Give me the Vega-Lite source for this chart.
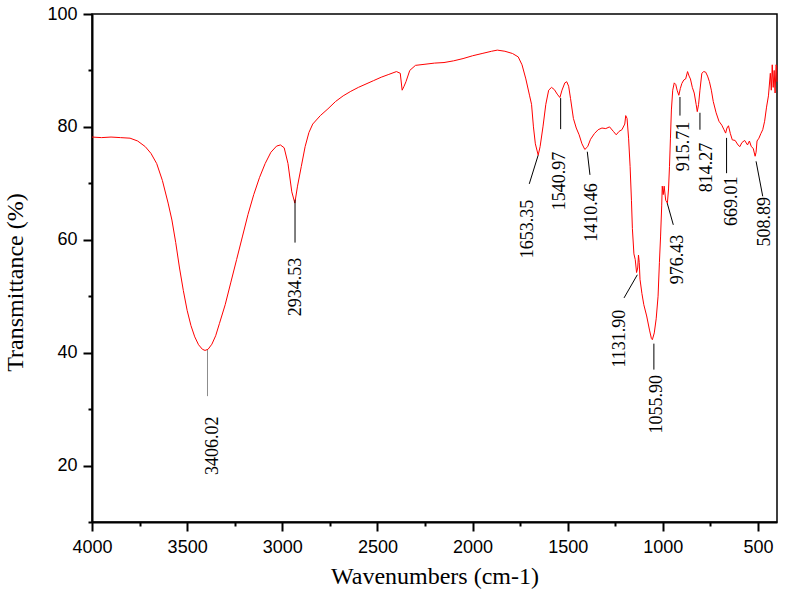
{
  "$schema": "https://vega.github.io/schema/vega-lite/v6.json",
  "width": 685,
  "height": 508,
  "autosize": "none",
  "padding": {"left": 92, "top": 14, "right": 9, "bottom": 83},
  "background": "white",
  "config": {
    "view": {"stroke": "black", "strokeWidth": 1.5},
    "axis": {
      "grid": false,
      "domainColor": "black",
      "domainWidth": 2,
      "tickColor": "black",
      "tickWidth": 2,
      "labelFont": "Liberation Sans",
      "labelFontSize": 18,
      "labelColor": "black",
      "titleFont": "Liberation Serif",
      "titleFontSize": 24,
      "titleFontWeight": "normal",
      "titleColor": "black"
    }
  },
  "datasets": {
    "spectrum": [
      {"wavenumber": 4000, "transmittance": 78.2}, {"wavenumber": 3950, "transmittance": 78.1}, {"wavenumber": 3900, "transmittance": 78.2},
      {"wavenumber": 3850, "transmittance": 78.1}, {"wavenumber": 3800, "transmittance": 78.0}, {"wavenumber": 3760, "transmittance": 77.5},
      {"wavenumber": 3720, "transmittance": 76.5}, {"wavenumber": 3690, "transmittance": 75.3}, {"wavenumber": 3660, "transmittance": 73.5},
      {"wavenumber": 3630, "transmittance": 70.5}, {"wavenumber": 3600, "transmittance": 66.5}, {"wavenumber": 3580, "transmittance": 63.5},
      {"wavenumber": 3560, "transmittance": 59.5}, {"wavenumber": 3540, "transmittance": 55.0}, {"wavenumber": 3520, "transmittance": 51.0},
      {"wavenumber": 3500, "transmittance": 47.5}, {"wavenumber": 3480, "transmittance": 44.8}, {"wavenumber": 3460, "transmittance": 42.8},
      {"wavenumber": 3440, "transmittance": 41.4}, {"wavenumber": 3420, "transmittance": 40.6}, {"wavenumber": 3406, "transmittance": 40.4},
      {"wavenumber": 3390, "transmittance": 40.6}, {"wavenumber": 3370, "transmittance": 41.5}, {"wavenumber": 3350, "transmittance": 43.0},
      {"wavenumber": 3330, "transmittance": 45.2}, {"wavenumber": 3300, "transmittance": 48.5}, {"wavenumber": 3270, "transmittance": 52.5},
      {"wavenumber": 3240, "transmittance": 56.5}, {"wavenumber": 3210, "transmittance": 60.5}, {"wavenumber": 3180, "transmittance": 64.5},
      {"wavenumber": 3150, "transmittance": 68.0}, {"wavenumber": 3120, "transmittance": 71.0}, {"wavenumber": 3090, "transmittance": 73.5},
      {"wavenumber": 3060, "transmittance": 75.5}, {"wavenumber": 3030, "transmittance": 76.6}, {"wavenumber": 3010, "transmittance": 76.8},
      {"wavenumber": 2990, "transmittance": 76.3}, {"wavenumber": 2970, "transmittance": 73.5}, {"wavenumber": 2950, "transmittance": 68.5},
      {"wavenumber": 2934, "transmittance": 66.5}, {"wavenumber": 2920, "transmittance": 69.5}, {"wavenumber": 2900, "transmittance": 73.0},
      {"wavenumber": 2880, "transmittance": 76.5}, {"wavenumber": 2860, "transmittance": 79.0}, {"wavenumber": 2840, "transmittance": 80.5},
      {"wavenumber": 2800, "transmittance": 82.0}, {"wavenumber": 2760, "transmittance": 83.2}, {"wavenumber": 2720, "transmittance": 84.5},
      {"wavenumber": 2680, "transmittance": 85.5}, {"wavenumber": 2640, "transmittance": 86.3}, {"wavenumber": 2600, "transmittance": 87.0},
      {"wavenumber": 2560, "transmittance": 87.6}, {"wavenumber": 2520, "transmittance": 88.2}, {"wavenumber": 2480, "transmittance": 88.8},
      {"wavenumber": 2440, "transmittance": 89.3}, {"wavenumber": 2400, "transmittance": 89.8}, {"wavenumber": 2380, "transmittance": 89.5},
      {"wavenumber": 2370, "transmittance": 86.5}, {"wavenumber": 2360, "transmittance": 87.2}, {"wavenumber": 2350, "transmittance": 88.0},
      {"wavenumber": 2330, "transmittance": 90.0}, {"wavenumber": 2300, "transmittance": 90.9}, {"wavenumber": 2250, "transmittance": 91.1},
      {"wavenumber": 2200, "transmittance": 91.3}, {"wavenumber": 2150, "transmittance": 91.4}, {"wavenumber": 2100, "transmittance": 91.7},
      {"wavenumber": 2050, "transmittance": 92.1}, {"wavenumber": 2000, "transmittance": 92.6}, {"wavenumber": 1950, "transmittance": 93.0},
      {"wavenumber": 1900, "transmittance": 93.4}, {"wavenumber": 1870, "transmittance": 93.6}, {"wavenumber": 1830, "transmittance": 93.4},
      {"wavenumber": 1790, "transmittance": 93.0}, {"wavenumber": 1760, "transmittance": 92.4}, {"wavenumber": 1740, "transmittance": 91.0},
      {"wavenumber": 1720, "transmittance": 88.5}, {"wavenumber": 1700, "transmittance": 85.5}, {"wavenumber": 1690, "transmittance": 84.0},
      {"wavenumber": 1680, "transmittance": 80.0}, {"wavenumber": 1670, "transmittance": 77.0}, {"wavenumber": 1655, "transmittance": 75.0},
      {"wavenumber": 1645, "transmittance": 76.5}, {"wavenumber": 1630, "transmittance": 80.0}, {"wavenumber": 1615, "transmittance": 84.0},
      {"wavenumber": 1600, "transmittance": 86.5}, {"wavenumber": 1585, "transmittance": 87.0}, {"wavenumber": 1570, "transmittance": 86.6},
      {"wavenumber": 1555, "transmittance": 85.8}, {"wavenumber": 1541, "transmittance": 85.2}, {"wavenumber": 1530, "transmittance": 86.5},
      {"wavenumber": 1515, "transmittance": 87.8}, {"wavenumber": 1505, "transmittance": 88.0}, {"wavenumber": 1495, "transmittance": 87.2},
      {"wavenumber": 1485, "transmittance": 85.0}, {"wavenumber": 1470, "transmittance": 81.5}, {"wavenumber": 1455, "transmittance": 79.8},
      {"wavenumber": 1440, "transmittance": 78.6}, {"wavenumber": 1425, "transmittance": 77.0}, {"wavenumber": 1410, "transmittance": 76.0},
      {"wavenumber": 1395, "transmittance": 76.5}, {"wavenumber": 1380, "transmittance": 77.8}, {"wavenumber": 1360, "transmittance": 78.8},
      {"wavenumber": 1340, "transmittance": 79.5}, {"wavenumber": 1320, "transmittance": 79.8}, {"wavenumber": 1300, "transmittance": 79.7},
      {"wavenumber": 1280, "transmittance": 80.0}, {"wavenumber": 1260, "transmittance": 79.2}, {"wavenumber": 1245, "transmittance": 78.6},
      {"wavenumber": 1230, "transmittance": 79.2}, {"wavenumber": 1215, "transmittance": 79.5}, {"wavenumber": 1200, "transmittance": 80.5},
      {"wavenumber": 1195, "transmittance": 82.0}, {"wavenumber": 1188, "transmittance": 81.5}, {"wavenumber": 1180, "transmittance": 78.0},
      {"wavenumber": 1172, "transmittance": 73.0}, {"wavenumber": 1165, "transmittance": 67.0}, {"wavenumber": 1160, "transmittance": 62.0},
      {"wavenumber": 1152, "transmittance": 57.5}, {"wavenumber": 1145, "transmittance": 56.5}, {"wavenumber": 1138, "transmittance": 54.2},
      {"wavenumber": 1132, "transmittance": 55.0}, {"wavenumber": 1128, "transmittance": 57.3}, {"wavenumber": 1124, "transmittance": 56.0},
      {"wavenumber": 1120, "transmittance": 53.0}, {"wavenumber": 1110, "transmittance": 50.5}, {"wavenumber": 1100, "transmittance": 48.5},
      {"wavenumber": 1085, "transmittance": 46.5}, {"wavenumber": 1070, "transmittance": 44.0}, {"wavenumber": 1060, "transmittance": 42.5},
      {"wavenumber": 1055, "transmittance": 42.3}, {"wavenumber": 1045, "transmittance": 43.5}, {"wavenumber": 1035, "transmittance": 46.0},
      {"wavenumber": 1025, "transmittance": 50.0}, {"wavenumber": 1018, "transmittance": 56.0}, {"wavenumber": 1012, "transmittance": 60.5},
      {"wavenumber": 1006, "transmittance": 66.0}, {"wavenumber": 1003, "transmittance": 69.5}, {"wavenumber": 998, "transmittance": 68.0},
      {"wavenumber": 993, "transmittance": 69.5}, {"wavenumber": 985, "transmittance": 67.0}, {"wavenumber": 976, "transmittance": 66.5},
      {"wavenumber": 970, "transmittance": 69.0}, {"wavenumber": 965, "transmittance": 73.0}, {"wavenumber": 960, "transmittance": 78.0},
      {"wavenumber": 955, "transmittance": 83.0}, {"wavenumber": 948, "transmittance": 86.5}, {"wavenumber": 940, "transmittance": 87.8},
      {"wavenumber": 932, "transmittance": 87.5}, {"wavenumber": 925, "transmittance": 86.5}, {"wavenumber": 916, "transmittance": 85.6},
      {"wavenumber": 908, "transmittance": 86.8}, {"wavenumber": 900, "transmittance": 87.7}, {"wavenumber": 890, "transmittance": 88.3},
      {"wavenumber": 880, "transmittance": 88.5}, {"wavenumber": 870, "transmittance": 89.8}, {"wavenumber": 862, "transmittance": 89.0},
      {"wavenumber": 855, "transmittance": 88.5}, {"wavenumber": 845, "transmittance": 87.0}, {"wavenumber": 835, "transmittance": 86.0},
      {"wavenumber": 825, "transmittance": 84.0}, {"wavenumber": 819, "transmittance": 82.7}, {"wavenumber": 812, "transmittance": 84.0},
      {"wavenumber": 805, "transmittance": 86.5}, {"wavenumber": 795, "transmittance": 89.5}, {"wavenumber": 785, "transmittance": 89.8},
      {"wavenumber": 775, "transmittance": 89.7}, {"wavenumber": 765, "transmittance": 89.0}, {"wavenumber": 755, "transmittance": 88.0},
      {"wavenumber": 745, "transmittance": 86.5}, {"wavenumber": 735, "transmittance": 84.5}, {"wavenumber": 720, "transmittance": 82.5},
      {"wavenumber": 705, "transmittance": 81.0}, {"wavenumber": 690, "transmittance": 80.3}, {"wavenumber": 680, "transmittance": 79.6},
      {"wavenumber": 670, "transmittance": 78.9}, {"wavenumber": 663, "transmittance": 79.8}, {"wavenumber": 655, "transmittance": 80.2},
      {"wavenumber": 645, "transmittance": 78.8}, {"wavenumber": 635, "transmittance": 77.7}, {"wavenumber": 620, "transmittance": 77.6},
      {"wavenumber": 605, "transmittance": 76.8}, {"wavenumber": 595, "transmittance": 76.5}, {"wavenumber": 585, "transmittance": 77.2},
      {"wavenumber": 570, "transmittance": 77.6}, {"wavenumber": 555, "transmittance": 76.8}, {"wavenumber": 545, "transmittance": 77.5},
      {"wavenumber": 535, "transmittance": 76.5}, {"wavenumber": 525, "transmittance": 76.2}, {"wavenumber": 515, "transmittance": 74.8},
      {"wavenumber": 510, "transmittance": 75.5}, {"wavenumber": 505, "transmittance": 77.5}, {"wavenumber": 495, "transmittance": 78.0},
      {"wavenumber": 485, "transmittance": 78.8}, {"wavenumber": 475, "transmittance": 79.5}, {"wavenumber": 465, "transmittance": 81.0},
      {"wavenumber": 455, "transmittance": 83.5}, {"wavenumber": 445, "transmittance": 85.5}, {"wavenumber": 435, "transmittance": 89.5},
      {"wavenumber": 430, "transmittance": 86.5}, {"wavenumber": 425, "transmittance": 91.0}, {"wavenumber": 420, "transmittance": 87.0},
      {"wavenumber": 415, "transmittance": 90.0}, {"wavenumber": 410, "transmittance": 86.0}, {"wavenumber": 405, "transmittance": 91.0},
      {"wavenumber": 402, "transmittance": 90.7}, {"wavenumber": 400, "transmittance": 88.0}
    ],
    "peaks": [
      {"label": "3406.02", "x1": 3393, "y1": 40.5, "x2": 3393, "y2": 32.3, "lx": 3364, "ly": 28.7},
      {"label": "2934.53", "x1": 2933, "y1": 67.1, "x2": 2933, "y2": 59.5, "lx": 2929, "ly": 56.8},
      {"label": "1653.35", "x1": 1655, "y1": 75.0, "x2": 1702, "y2": 69.9, "lx": 1709, "ly": 67.1},
      {"label": "1540.97", "x1": 1537, "y1": 85.1, "x2": 1537, "y2": 79.6, "lx": 1541, "ly": 75.6},
      {"label": "1410.46", "x1": 1397, "y1": 75.6, "x2": 1383, "y2": 71.5, "lx": 1374, "ly": 70.0},
      {"label": "1131.90", "x1": 1134, "y1": 53.8, "x2": 1204, "y2": 49.7, "lx": 1225, "ly": 47.6},
      {"label": "1055.90", "x1": 1047, "y1": 41.6, "x2": 1047, "y2": 37.0, "lx": 1033, "ly": 36.05},
      {"label": "976.43", "x1": 977, "y1": 66.5, "x2": 945, "y2": 62.65, "lx": 919, "ly": 60.9},
      {"label": "915.71", "x1": 910, "y1": 85.3, "x2": 910, "y2": 82.0, "lx": 887, "ly": 80.9},
      {"label": "814.27", "x1": 805, "y1": 82.5, "x2": 805, "y2": 79.5, "lx": 768, "ly": 77.2},
      {"label": "669.01", "x1": 665, "y1": 78.05, "x2": 665, "y2": 71.8, "lx": 638, "ly": 71.2},
      {"label": "508.89", "x1": 510, "y1": 73.9, "x2": 475, "y2": 67.7, "lx": 463, "ly": 67.6}
    ]
  },
  "layer": [
    {
      "data": {"name": "spectrum"},
      "mark": {"type": "line", "color": "#ff0000", "strokeWidth": 1},
      "encoding": {
        "x": {
          "field": "wavenumber", "type": "quantitative",
          "scale": {"domain": [400, 4000], "reverse": true, "nice": false, "zero": false},
          "axis": {
            "title": "Wavenumbers (cm-1)",
            "values": [4000, 3750, 3500, 3250, 3000, 2750, 2500, 2250, 2000, 1750, 1500, 1250, 1000, 750, 500],
            "labelExpr": "datum.value % 500 === 0 ? '' + datum.value : ''",
            "tickSize": {"condition": {"test": "datum.value % 500 === 0", "value": 9}, "value": 4},
            "labelPadding": 7,
            "titlePadding": 8,
            "labelFlush": false,
            "labelOverlap": false
          }
        },
        "y": {
          "field": "transmittance", "type": "quantitative",
          "scale": {"domain": [10, 100], "nice": false, "zero": false},
          "axis": {
            "title": "Transmittance (%)",
            "values": [10, 20, 30, 40, 50, 60, 70, 80, 90, 100],
            "labelExpr": "datum.value % 20 === 0 ? '' + datum.value : ''",
            "tickSize": {"condition": {"test": "datum.value % 20 === 0", "value": 9}, "value": 4},
            "labelPadding": 6,
            "titlePadding": 19,
            "titleY": 268,
            "labelFlush": false,
            "labelOverlap": false
          }
        }
      }
    },
    {
      "data": {"name": "peaks"},
      "mark": {"type": "rule", "strokeWidth": 1},
      "encoding": {
        "x": {"field": "x1", "type": "quantitative"},
        "y": {"field": "y1", "type": "quantitative"},
        "x2": {"field": "x2"},
        "y2": {"field": "y2"},
        "color": {"condition": {"test": "datum.label === '3406.02'", "value": "#8c8c8c"}, "value": "black"}
      }
    },
    {
      "data": {"name": "peaks"},
      "mark": {"type": "text", "angle": 270, "align": "right", "baseline": "middle", "font": "Liberation Serif", "fontSize": 18, "color": "black"},
      "encoding": {
        "x": {"field": "lx", "type": "quantitative"},
        "y": {"field": "ly", "type": "quantitative"},
        "text": {"field": "label"}
      }
    }
  ]
}
